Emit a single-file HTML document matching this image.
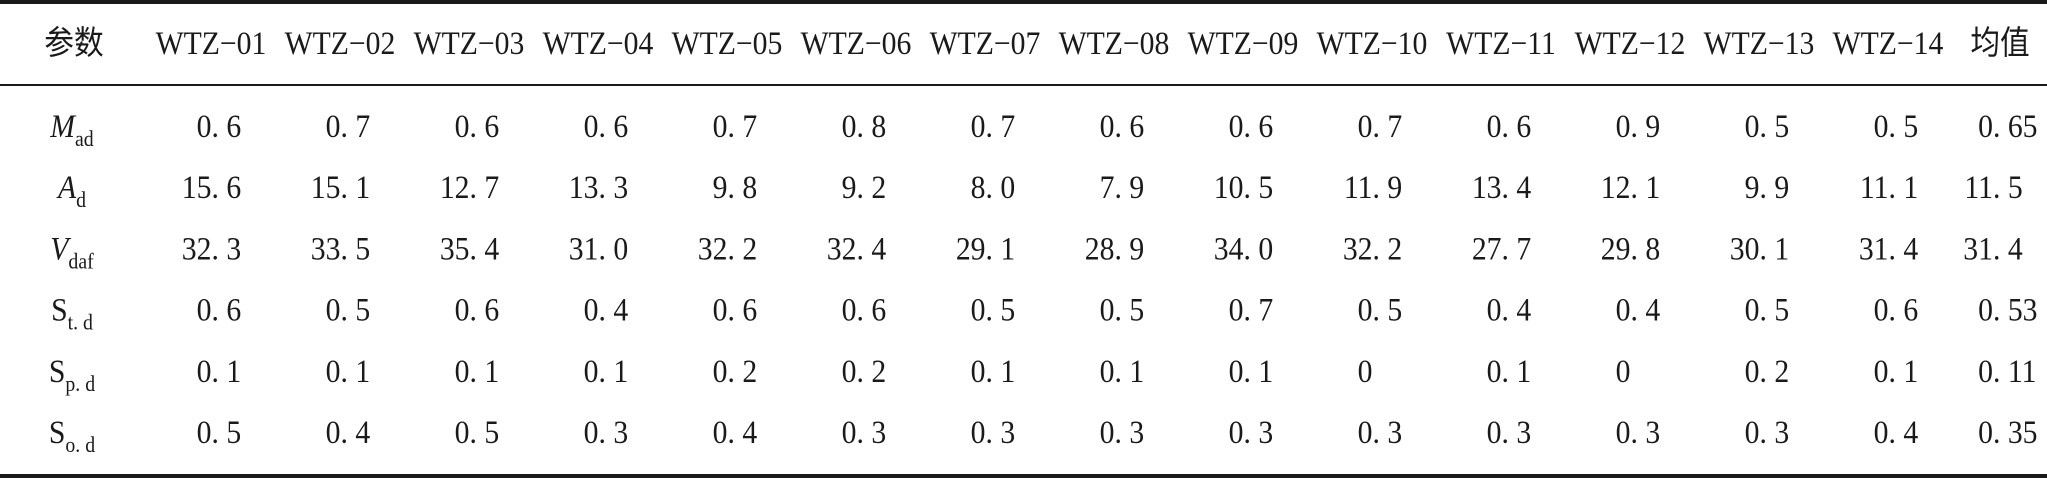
<!DOCTYPE html>
<html><head><meta charset="utf-8"><style>
html,body{margin:0;padding:0;background:#fff;}
svg{display:block;}
text{font-family:"Liberation Serif","Noto Serif CJK SC",serif;fill:#1a1a1a;font-size:33px;}
.cjk{font-family:"Liberation Serif","Noto Sans CJK SC",sans-serif;}
</style></head><body>
<svg id="tbl" width="2047" height="478" viewBox="0 0 2047 478" xmlns="http://www.w3.org/2000/svg">
<rect x="0" y="0" width="2047" height="4" fill="#1a1a1a"/>
<rect x="0" y="84" width="2047" height="2" fill="#1a1a1a"/>
<rect x="0" y="474" width="2047" height="4" fill="#1a1a1a"/>
<g id="sx" transform="scale(0.9,1)">
<text class="cjk" x="82.2" y="54" text-anchor="middle">参数</text>
<g id="hdr"></g><g id="lbl"></g><g id="cells"></g>
</g>
</svg>
<script>
const columns = ["WTZ−01","WTZ−02","WTZ−03","WTZ−04","WTZ−05","WTZ−06","WTZ−07","WTZ−08","WTZ−09","WTZ−10","WTZ−11","WTZ−12","WTZ−13","WTZ−14","均值"];
const rowMain = ["M","A","V","S","S","S"];
const rowSub = ["ad","d","daf","t. d","p. d","o. d"];
const rowItalic = [true,true,true,false,false,false];
const rowMad = ["0. 6","0. 7","0. 6","0. 6","0. 7","0. 8","0. 7","0. 6","0. 6","0. 7","0. 6","0. 9","0. 5","0. 5","0. 65"];
const rowAd = ["15. 6","15. 1","12. 7","13. 3","9. 8","9. 2","8. 0","7. 9","10. 5","11. 9","13. 4","12. 1","9. 9","11. 1","11. 5"];
const rowVdaf = ["32. 3","33. 5","35. 4","31. 0","32. 2","32. 4","29. 1","28. 9","34. 0","32. 2","27. 7","29. 8","30. 1","31. 4","31. 4"];
const rowStd = ["0. 6","0. 5","0. 6","0. 4","0. 6","0. 6","0. 5","0. 5","0. 7","0. 5","0. 4","0. 4","0. 5","0. 6","0. 53"];
const rowSpd = ["0. 1","0. 1","0. 1","0. 1","0. 2","0. 2","0. 1","0. 1","0. 1","0","0. 1","0","0. 2","0. 1","0. 11"];
const rowSod = ["0. 5","0. 4","0. 5","0. 3","0. 4","0. 3","0. 3","0. 3","0. 3","0. 3","0. 3","0. 3","0. 3","0. 4","0. 35"];
const rows = [rowMad,rowAd,rowVdaf,rowStd,rowSpd,rowSod];
const NS="http://www.w3.org/2000/svg";
const SX=0.9;
function colX(i){return (i<14 ? 211+129*i : 2000)/SX;}
function rowY(r){return 137+61.2*r;}
const hdr=document.getElementById('hdr'),lbl=document.getElementById('lbl'),cells=document.getElementById('cells');
columns.forEach((c,i)=>{
  const t=document.createElementNS(NS,'text');
  
  
  t.setAttribute('x',colX(i));t.setAttribute('y',54);t.setAttribute('text-anchor','middle');
  if(i==14)t.setAttribute('class','cjk');
  t.textContent=c;hdr.appendChild(t);
});
rowMain.forEach((m,r)=>{
  const t=document.createElementNS(NS,'text');
  
  
  t.setAttribute('x',72/SX);t.setAttribute('y',rowY(r));t.setAttribute('text-anchor','middle');
  const a=document.createElementNS(NS,'tspan');a.textContent=m;if(rowItalic[r])a.setAttribute('font-style','italic');
  const b=document.createElementNS(NS,'tspan');b.textContent=rowSub[r];b.setAttribute('font-size','22');b.setAttribute('dy','9');
  t.appendChild(a);t.appendChild(b);lbl.appendChild(t);
});
rows.forEach((vals,r)=>{
  vals.forEach((v,i)=>{
    const dot = i<14 ? colX(i)+0.5/SX : colX(i)-7/SX;
    const k=v.indexOf('.');
    const ip = k<0 ? v : v.slice(0,k), fp = k<0 ? '' : v.slice(k);
    const t=document.createElementNS(NS,'text');
    
    
    t.setAttribute('x',dot);t.setAttribute('y',rowY(r));t.setAttribute('text-anchor','end');
    t.textContent=ip;cells.appendChild(t);
    if(fp){
      const f=document.createElementNS(NS,'text');
      
      
      f.setAttribute('x',dot);f.setAttribute('y',rowY(r));
      f.textContent=fp;cells.appendChild(f);
    }
  });
});
</script>
</body></html>
